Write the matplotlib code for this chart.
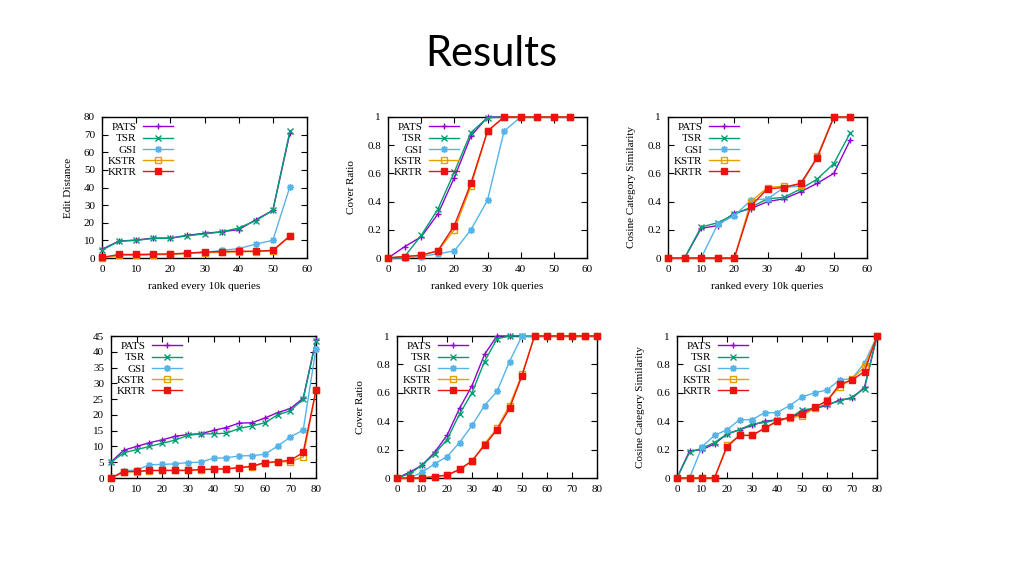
import matplotlib
matplotlib.use("Agg")
import matplotlib.pyplot as plt

# ---------------- data ----------------
series_names = ["PATS", "TSR", "GSI", "KSTR", "KRTR"]

x_top = [0, 5, 10, 15, 20, 25, 30, 35, 40, 45, 50, 55]
x_bot = [0, 5, 10, 15, 20, 25, 30, 35, 40, 45, 50, 55, 60, 65, 70, 75, 80]

# Top-left: Edit Distance
ed_top_pats = [5, 9.6, 10.2, 11.3, 11.3, 12.9, 14.0, 14.9, 16.1, 21.7, 27.0, 71.0]
ed_top_tsr = [4.5, 9.5, 10.0, 11.1, 11.2, 12.6, 13.7, 14.8, 17.0, 21.2, 27.0, 72.0]
ed_top_gsi = [0.2, 1.6, 1.7, 2.0, 2.1, 2.6, 3.2, 4.3, 5.3, 7.9, 10.0, 40.5]
ed_top_kstr = [0.2, 1.5, 1.6, 1.9, 2.0, 2.5, 3.0, 3.3, 3.5, 3.6, 4.0, 12.2]
ed_top_krtr = [0.3, 2.0, 2.0, 2.2, 2.3, 2.8, 3.4, 3.6, 3.8, 3.9, 4.3, 12.6]

# Top-middle: Cover Ratio
cr_top_pats = [0.0, 0.08, 0.15, 0.31, 0.57, 0.865, 1.0, 1.0, 1.0, 1.0, 1.0, 1.0]
cr_top_tsr = [0.0, 0.01, 0.16, 0.345, 0.61, 0.89, 0.995, 1.0, 1.0, 1.0, 1.0, 1.0]
cr_top_gsi = [0.0, 0.0, 0.01, 0.03, 0.05, 0.20, 0.41, 0.90, 1.0, 1.0, 1.0, 1.0]
cr_top_kstr = [0.0, 0.01, 0.02, 0.05, 0.20, 0.51, 0.90, 1.0, 1.0, 1.0, 1.0, 1.0]
cr_top_krtr = [0.0, 0.01, 0.02, 0.05, 0.23, 0.53, 0.90, 1.0, 1.0, 1.0, 1.0, 1.0]

# Top-right: Cosine Category Similarity
cs_top_pats = [0.0, 0.0, 0.21, 0.23, 0.32, 0.35, 0.40, 0.42, 0.47, 0.53, 0.60, 0.84]
cs_top_tsr = [0.0, 0.0, 0.22, 0.25, 0.31, 0.36, 0.42, 0.43, 0.49, 0.56, 0.67, 0.89]
cs_top_gsi = [0.0, 0.0, 0.0, 0.24, 0.30, 0.41, 0.42, 0.50, 0.51, 0.72, 1.0, 1.0]
cs_top_kstr = [0.0, 0.0, 0.0, 0.0, 0.0, 0.40, 0.50, 0.51, 0.52, 0.72, 1.0, 1.0]
cs_top_krtr = [0.0, 0.0, 0.0, 0.0, 0.0, 0.37, 0.49, 0.50, 0.53, 0.71, 1.0, 1.0]

# Bottom-left: Edit Distance
ed_bot_pats = [5.1, 8.8, 10.0, 11.2, 12.1, 13.2, 13.8, 14.0, 15.1, 16.0, 17.4, 17.5, 19.0, 20.7, 22.0, 25.3, 43.8]
ed_bot_tsr = [5.0, 8.0, 9.0, 10.0, 11.0, 12.0, 13.5, 14.0, 14.0, 14.2, 15.7, 16.5, 17.5, 20.0, 21.3, 25.0, 43.5]
ed_bot_gsi = [0.0, 2.3, 2.5, 4.2, 4.3, 4.5, 4.9, 5.0, 6.3, 6.4, 7.0, 7.1, 7.5, 10.1, 13.0, 15.2, 41.0]
ed_bot_kstr = [0.0, 1.9, 2.0, 2.3, 2.4, 2.4, 2.4, 2.6, 2.8, 2.9, 3.2, 3.6, 4.8, 5.0, 5.2, 6.6, 27.8]
ed_bot_krtr = [0.0, 2.0, 2.1, 2.4, 2.4, 2.4, 2.4, 2.7, 2.8, 2.9, 3.3, 3.7, 4.9, 5.2, 5.6, 8.1, 27.8]

# Bottom-middle: Cover Ratio
cr_bot_pats = [0.0, 0.04, 0.09, 0.18, 0.30, 0.49, 0.65, 0.87, 1.0, 1.0, 1.0, 1.0, 1.0, 1.0, 1.0, 1.0, 1.0]
cr_bot_tsr = [0.0, 0.03, 0.09, 0.17, 0.27, 0.45, 0.60, 0.82, 0.98, 1.0, 1.0, 1.0, 1.0, 1.0, 1.0, 1.0, 1.0]
cr_bot_gsi = [0.0, 0.0, 0.04, 0.10, 0.15, 0.25, 0.37, 0.51, 0.61, 0.82, 1.0, 1.0, 1.0, 1.0, 1.0, 1.0, 1.0]
cr_bot_kstr = [0.0, 0.0, 0.0, 0.01, 0.02, 0.06, 0.12, 0.24, 0.35, 0.51, 0.73, 1.0, 1.0, 1.0, 1.0, 1.0, 1.0]
cr_bot_krtr = [0.0, 0.0, 0.0, 0.01, 0.02, 0.06, 0.12, 0.23, 0.34, 0.49, 0.72, 1.0, 1.0, 1.0, 1.0, 1.0, 1.0]

# Bottom-right: Cosine Category Similarity
cs_bot_pats = [0.0, 0.19, 0.20, 0.24, 0.31, 0.34, 0.37, 0.40, 0.41, 0.42, 0.47, 0.49, 0.51, 0.55, 0.56, 0.64, 1.0]
cs_bot_tsr = [0.0, 0.18, 0.21, 0.25, 0.31, 0.34, 0.38, 0.39, 0.41, 0.42, 0.48, 0.49, 0.52, 0.54, 0.57, 0.63, 1.0]
cs_bot_gsi = [0.0, 0.0, 0.22, 0.30, 0.34, 0.41, 0.41, 0.46, 0.46, 0.51, 0.57, 0.60, 0.62, 0.69, 0.70, 0.81, 1.0]
cs_bot_kstr = [0.0, 0.0, 0.0, 0.0, 0.23, 0.30, 0.30, 0.35, 0.40, 0.42, 0.44, 0.49, 0.55, 0.64, 0.70, 0.78, 1.0]
cs_bot_krtr = [0.0, 0.0, 0.0, 0.0, 0.22, 0.30, 0.30, 0.35, 0.40, 0.43, 0.45, 0.50, 0.54, 0.66, 0.69, 0.75, 1.0]

title = "Results"
xlabel_text = "ranked every 10k queries"
ylabels = ["Edit Distance", "Cover Ratio", "Cosine Category Similarity"]

# ---------------- style ----------------
colors = ["#9400D3", "#009E73", "#56B4E9", "#E69F00", "#EE1111"]
markers = ["+", "x", (8, 2, 0), "s", "s"]
mfcs = [None, None, None, "none", "#EE1111"]
msizes = [5, 4, 5, 4.3, 4.3]

W, H = 1024, 576
fig = plt.figure(figsize=(W / 100, H / 100), dpi=100)
fig.patch.set_facecolor("white")

SERIF = ["Liberation Serif", "DejaVu Serif"]
FS = 8


def px_axes(x0, x1, y0, y1):
    return fig.add_axes([x0 / W, (H - y1) / H, (x1 - x0) / W, (y1 - y0) / H])


def draw(ax, x, ys, xmax, xticks, ymax, yticks, yticklabels, xlabel, ylabel):
    for i, (name, y) in enumerate(zip(series_names, ys)):
        kw = dict(color=colors[i], marker=markers[i], markersize=msizes[i],
                  linewidth=1.0, markeredgewidth=1.0, label=name, clip_on=False,
                  zorder=3 + i)
        if mfcs[i] is not None:
            kw["markerfacecolor"] = mfcs[i]
        ax.plot(x, y, **kw)
    ax.set_xlim(0, xmax)
    ax.set_ylim(0, ymax)
    ax.set_xticks(xticks)
    ax.set_yticks(yticks)
    ax.set_yticklabels(yticklabels)
    ax.tick_params(direction="in", top=True, right=True, length=4, width=0.8,
                   labelsize=FS, pad=5)
    for lab in ax.get_xticklabels() + ax.get_yticklabels():
        lab.set_family(SERIF)
    for sp in ax.spines.values():
        sp.set_linewidth(1.0)
    if xlabel:
        ax.set_xlabel(xlabel, family=SERIF, fontsize=FS, labelpad=6)
    if ylabel:
        ax.set_ylabel(ylabel, family=SERIF, fontsize=FS, labelpad=8)
    leg = ax.legend(loc="upper left", frameon=False, markerfirst=False,
                    prop={"family": SERIF, "size": FS}, handlelength=2.7,
                    handletextpad=0.6, labelspacing=0.12, borderaxespad=0.3,
                    borderpad=0.2)
    leg.set_zorder(20)


def fmt(vals):
    return [("%g" % v) for v in vals]


# Top row
ax1 = px_axes(102, 307, 117, 258)
draw(ax1, x_top, [ed_top_pats, ed_top_tsr, ed_top_gsi, ed_top_kstr, ed_top_krtr],
     60, range(0, 61, 10), 80, range(0, 81, 10), fmt(range(0, 81, 10)),
     xlabel_text, ylabels[0])

ax2 = px_axes(388, 587, 117, 258)
yt = [0, 0.2, 0.4, 0.6, 0.8, 1.0]
draw(ax2, x_top, [cr_top_pats, cr_top_tsr, cr_top_gsi, cr_top_kstr, cr_top_krtr],
     60, range(0, 61, 10), 1.0, yt, fmt(yt), xlabel_text, ylabels[1])

ax3 = px_axes(668, 867, 117, 258)
draw(ax3, x_top, [cs_top_pats, cs_top_tsr, cs_top_gsi, cs_top_kstr, cs_top_krtr],
     60, range(0, 61, 10), 1.0, yt, fmt(yt), xlabel_text, ylabels[2])

# Bottom row
ax4 = px_axes(111, 316, 336, 478)
draw(ax4, x_bot, [ed_bot_pats, ed_bot_tsr, ed_bot_gsi, ed_bot_kstr, ed_bot_krtr],
     80, range(0, 81, 10), 45, range(0, 46, 5), fmt(range(0, 46, 5)),
     None, None)

ax5 = px_axes(397, 597, 336, 478)
draw(ax5, x_bot, [cr_bot_pats, cr_bot_tsr, cr_bot_gsi, cr_bot_kstr, cr_bot_krtr],
     80, range(0, 81, 10), 1.0, yt, fmt(yt), None, ylabels[1])

ax6 = px_axes(677, 877, 336, 478)
draw(ax6, x_bot, [cs_bot_pats, cs_bot_tsr, cs_bot_gsi, cs_bot_kstr, cs_bot_krtr],
     80, range(0, 81, 10), 1.0, yt, fmt(yt), None, ylabels[2])

fig.text(491 / W, 1 - 54 / H, title, ha="center", va="center",
         fontsize=30, family=["Lato", "Open Sans", "DejaVu Sans"])

fig.savefig("out.png", dpi=100, facecolor="white")
